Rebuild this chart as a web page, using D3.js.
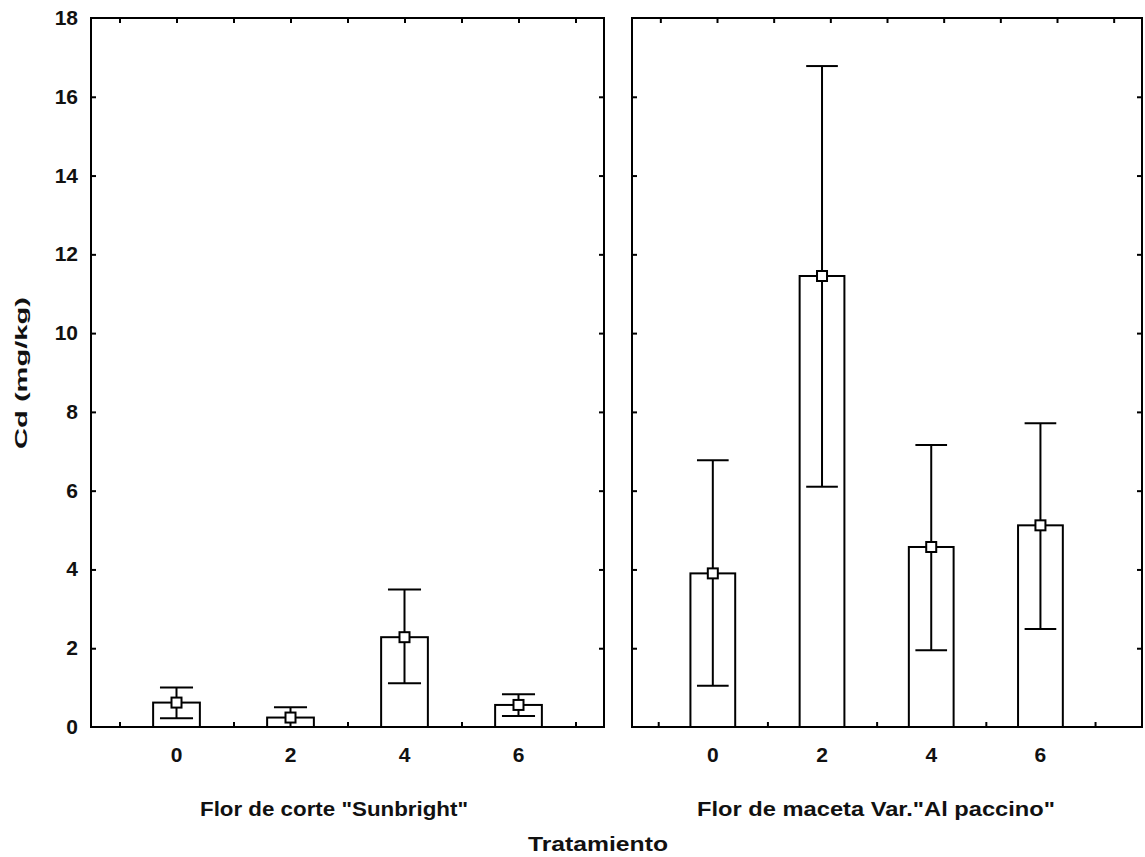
<!DOCTYPE html>
<html>
<head>
<meta charset="utf-8">
<script src="https://cdn.jsdelivr.net/npm/d3@7"></script>
<style>
  body { margin: 0; background: #fff; }
  text { font-family: "Liberation Sans", Arial, sans-serif; font-weight: bold; fill: #111; }
</style>
</head>
<body>
<div id="viz"><svg></svg></div>
<script>
const fullWidth = 1145;
const fullHeight = 857;

// data
const treatments = [0, 2, 4, 6];
const panelNames = ['Flor de corte "Sunbright"', 'Flor de maceta Var."Al paccino"'];
const sunMean = [0.62, 0.24, 2.28, 0.56];
const sunLow = [0.22, 0.0, 1.11, 0.28];
const sunHigh = [1.0, 0.5, 3.49, 0.83];
const pacMean = [3.9, 11.45, 4.57, 5.12];
const pacLow = [1.05, 6.1, 1.95, 2.49];
const pacHigh = [6.77, 16.78, 7.16, 7.71];
const yTicks = [0, 2, 4, 6, 8, 10, 12, 14, 16, 18];
const xMinorTicks = [-1, 0, 1, 2, 3, 4, 5, 6, 7];

const plotTop = 18, plotBottom = 727;
const barHalf = 0.41;
const capHalf = 0.29;

const svg = d3.select('#viz svg')
  .attr('width', fullWidth)
  .attr('height', fullHeight);

const y = d3.scaleLinear().domain([0, 18]).range([plotBottom, plotTop]);

const panels = [
  { name: panelNames[0], mean: sunMean, low: sunLow, high: sunHigh,
    x: d3.scaleLinear().domain([-1.5, 7.5]).range([91, 604]),
    xTop: d3.scaleLinear().domain([-1.5, 7.5]).range([91, 604]),
    labelX: 334, labelLen: 268 },
  { name: panelNames[1], mean: pacMean, low: pacLow, high: pacHigh,
    x: d3.scaleLinear().domain([-1.48, 7.86]).range([632, 1142]),
    xTop: d3.scaleLinear().domain([-1.5, 7.5]).range([632, 1142]),
    labelX: 876, labelLen: 358 }
];

panels.forEach((p) => {
  const g = svg.append('g');
  const x = p.x;
  const [x0, x1] = x.range();

  // inward ticks on all four sides
  g.append('g')
    .attr('transform', `translate(0,${plotBottom})`)
    .call(d3.axisTop(x).tickValues(xMinorTicks).tickSize(5).tickFormat(''));
  g.append('g')
    .attr('transform', `translate(0,${plotTop})`)
    .call(d3.axisBottom(p.xTop).tickValues(xMinorTicks).tickSize(5).tickFormat(''));
  g.append('g')
    .attr('transform', `translate(${x0},0)`)
    .call(d3.axisRight(y).tickValues(yTicks.slice(1, -1)).tickSize(5).tickFormat(''));
  g.append('g')
    .attr('transform', `translate(${x1},0)`)
    .call(d3.axisLeft(y).tickValues(yTicks.slice(1, -1)).tickSize(5).tickFormat(''));
  g.selectAll('.domain').remove();
  g.selectAll('.tick line').attr('stroke', '#000').attr('stroke-width', 2);

  // bars
  g.selectAll('rect.bar')
    .data(treatments)
    .enter().append('rect')
    .attr('class', 'bar')
    .attr('x', d => x(d - barHalf))
    .attr('width', d => x(d + barHalf) - x(d - barHalf))
    .attr('y', (d, i) => y(p.mean[i]))
    .attr('height', (d, i) => y(0) - y(p.mean[i]))
    .attr('fill', '#fff')
    .attr('stroke', '#000')
    .attr('stroke-width', 2);

  // whiskers
  treatments.forEach((d, i) => {
    g.append('line')
      .attr('x1', x(d)).attr('x2', x(d))
      .attr('y1', y(p.low[i])).attr('y2', y(p.high[i]))
      .attr('stroke', '#000').attr('stroke-width', 2);
    [p.low[i], p.high[i]].forEach(v => {
      g.append('line')
        .attr('x1', x(d - capHalf)).attr('x2', x(d + capHalf))
        .attr('y1', y(v)).attr('y2', y(v))
        .attr('stroke', '#000').attr('stroke-width', 2);
    });
  });

  // mean markers
  g.selectAll('rect.mean')
    .data(treatments)
    .enter().append('rect')
    .attr('class', 'mean')
    .attr('x', d => x(d) - 5)
    .attr('y', (d, i) => y(p.mean[i]) - 5)
    .attr('width', 10)
    .attr('height', 10)
    .attr('fill', '#fff')
    .attr('stroke', '#000')
    .attr('stroke-width', 2);

  // frame
  g.append('rect')
    .attr('x', x0).attr('y', plotTop)
    .attr('width', x1 - x0).attr('height', plotBottom - plotTop)
    .attr('fill', 'none').attr('stroke', '#000').attr('stroke-width', 2);

  // x tick labels
  g.selectAll('text.xl')
    .data(treatments)
    .enter().append('text')
    .attr('class', 'xl')
    .attr('x', d => x(d))
    .attr('y', 762)
    .attr('text-anchor', 'middle')
    .style('font-size', '21px')
    .text(d => d);

  g.append('text')
    .attr('x', p.labelX)
    .attr('y', 816)
    .attr('text-anchor', 'middle')
    .attr('textLength', p.labelLen)
    .attr('lengthAdjust', 'spacingAndGlyphs')
    .style('font-size', '21px')
    .text(p.name);
});

// y axis labels
svg.append('g')
  .selectAll('text')
  .data(yTicks)
  .enter().append('text')
  .attr('x', 78)
  .attr('y', d => y(d) + 7)
  .attr('text-anchor', 'end')
  .style('font-size', '21px')
  .text(d => d);

svg.append('text')
  .attr('transform', 'translate(27,373) rotate(-90)')
  .attr('text-anchor', 'middle')
  .attr('textLength', 152)
  .attr('lengthAdjust', 'spacingAndGlyphs')
  .style('font-size', '17px')
  .text('Cd (mg/kg)');

svg.append('text')
  .attr('x', 598)
  .attr('y', 851)
  .attr('text-anchor', 'middle')
  .attr('textLength', 140)
  .attr('lengthAdjust', 'spacingAndGlyphs')
  .style('font-size', '21px')
  .text('Tratamiento');
</script>
</body>
</html>
